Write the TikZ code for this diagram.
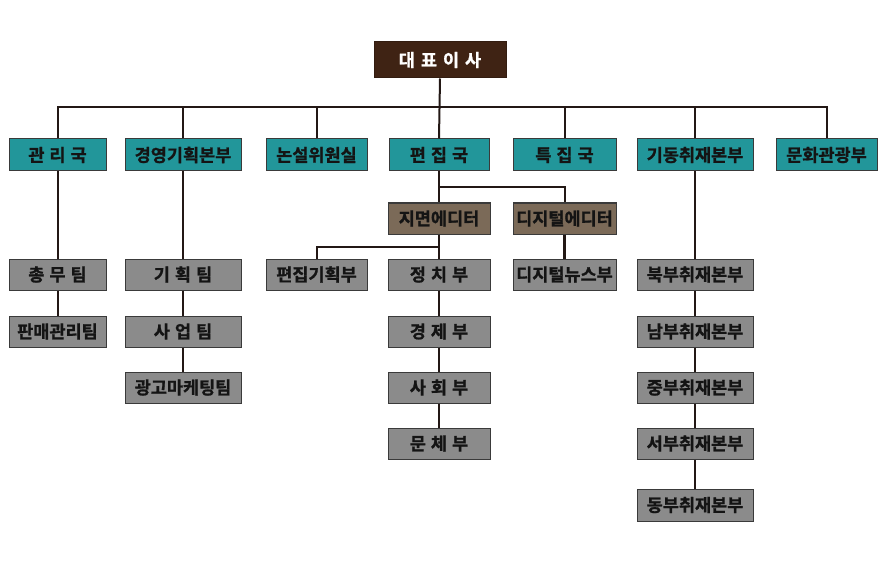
\documentclass[tikz,border=0pt]{standalone}
\usepackage{fontspec}
\setmainfont{Noto Sans CJK KR}[BoldFont={Noto Sans CJK KR Bold},BoldFeatures={FakeBold=1.2}]
\definecolor{ceoC}{HTML}{3F2314}
\definecolor{tealC}{HTML}{22969A}
\definecolor{brownC}{HTML}{7B6A58}
\definecolor{grayC}{HTML}{8B8B8B}
\definecolor{lineC}{HTML}{231815}
\definecolor{bordC}{HTML}{3A3A3A}
\newcommand{\ceogap}{\hspace{6pt}}
\newcommand{\gp}{\hspace{5pt}}
\begin{document}
\begin{tikzpicture}[x=1pt,y=-1pt,
  box/.style={draw=bordC,line width=1pt,minimum height=31pt,inner sep=0pt,
    font=\fontsize{17.5}{18}\selectfont\bfseries,text=black!92},
  ceobox/.style={box,fill=ceoC,draw=ceoC!80!black,text=white,minimum height=36pt,minimum width=132pt},
  tealbox/.style={box,fill=tealC,minimum height=32pt},
  brownbox/.style={box,fill=brownC},
  graybox/.style={box,fill=grayC},
  conn/.style={draw=lineC,line width=2pt}]
\useasboundingbox (0,0) rectangle (884,567);
% CEO
\node[ceobox] (ceo) at (440,60) {대\ceogap 표\ceogap 이\ceogap 사};
% level 2
\node[tealbox,minimum width=97pt] (gwan) at (57.5,155) {관\gp 리\gp 국};
\node[tealbox,minimum width=116pt] (gyeong) at (183,155) {경영기획본부};
\node[tealbox,minimum width=101pt] (non) at (316.5,155) {논설위원실};
\node[tealbox,minimum width=100pt] (pyeon) at (439,155) {편\gp 집\gp 국};
\node[tealbox,minimum width=103pt] (teuk) at (564.5,155) {특\gp 집\gp 국};
\node[tealbox,minimum width=116pt] (gidong) at (695,155) {기동취재본부};
\node[tealbox,minimum width=101pt] (munhwa) at (826.5,155) {문화관광부};
% level 3
\node[brownbox,minimum width=102pt] (jimyeon) at (439,218.5) {지면에디터};
\node[brownbox,minimum width=103pt] (digital) at (564.5,218.5) {디지털에디터};
% row 4
\node[graybox,minimum width=97pt] (chongmu) at (57.5,274.5) {총\gp 무\gp 팀};
\node[graybox,minimum width=116pt] (gihoek) at (183,274.5) {기\gp 획\gp 팀};
\node[graybox,minimum width=101pt] (pgihoek) at (316.5,274.5) {편집기획부};
\node[graybox,minimum width=102pt] (jeongchi) at (439,274.5) {정\gp 치\gp 부};
\node[graybox,minimum width=103pt] (dnews) at (564.5,274.5) {디지털뉴스부};
\node[graybox,minimum width=116pt] (bukbu) at (695,274.5) {북부취재본부};
% row 5
\node[graybox,minimum width=97pt] (panmae) at (57.5,331.5) {판매관리팀};
\node[graybox,minimum width=116pt] (saeop) at (183,331.5) {사\gp 업\gp 팀};
\node[graybox,minimum width=102pt] (gyeongje) at (439,331.5) {경\gp 제\gp 부};
\node[graybox,minimum width=116pt] (nambu) at (695,331.5) {남부취재본부};
% row 6
\node[graybox,minimum width=116pt] (gwanggo) at (183,387.5) {광고마케팅팀};
\node[graybox,minimum width=102pt] (sahoe) at (439,387.5) {사\gp 회\gp 부};
\node[graybox,minimum width=116pt] (jungbu) at (695,387.5) {중부취재본부};
% row 7
\node[graybox,minimum width=102pt] (munche) at (439,443.5) {문\gp 체\gp 부};
\node[graybox,minimum width=116pt] (seobu) at (695,443.5) {서부취재본부};
% row 8
\node[graybox,minimum width=116pt,minimum height=32pt] (dongbu) at (695,505) {동부취재본부};
% connectors
\coordinate (bus) at (0,107);
\coordinate (ebus) at (0,187);
\coordinate (jbus) at (0,247);
\draw[conn] (ceo.south) -- (pyeon.north);
\draw[conn] (gwan.north) |- (bus -| munhwa.north) -- (munhwa.north);
\foreach \n in {gyeong,non,teuk,gidong}
  \draw[conn] (\n.north) -- (\n.north |- bus);
\draw[conn] (pyeon.south) -- (jimyeon.north);
\draw[conn] (pyeon.south |- ebus) -| (digital.north);
\draw[conn] (jimyeon.south) -- (jeongchi.north);
\draw[conn] (jimyeon.south |- jbus) -| (pgihoek.north);
\draw[conn,line width=3pt] (digital.south) -- (dnews.north);
\draw[conn] (gwan.south) -- (chongmu.north);
\draw[conn] (chongmu.south) -- (panmae.north);
\draw[conn] (gyeong.south) -- (gihoek.north);
\draw[conn] (gihoek.south) -- (saeop.north);
\draw[conn] (saeop.south) -- (gwanggo.north);
\draw[conn] (jeongchi.south) -- (gyeongje.north);
\draw[conn] (gyeongje.south) -- (sahoe.north);
\draw[conn] (sahoe.south) -- (munche.north);
\draw[conn] (gidong.south) -- (bukbu.north);
\draw[conn] (bukbu.south) -- (nambu.north);
\draw[conn] (nambu.south) -- (jungbu.north);
\draw[conn] (jungbu.south) -- (seobu.north);
\draw[conn] (seobu.south) -- (dongbu.north);
\end{tikzpicture}
\end{document}
